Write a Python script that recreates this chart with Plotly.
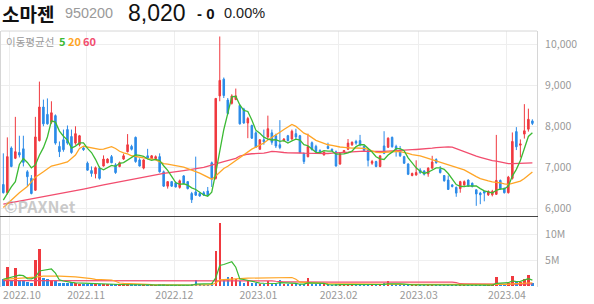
import plotly.graph_objects as go
import pandas as pd

# ---------------- data ----------------
opens = [6580, 6380, 7470, 7220, 7360, 7450, 6890, 6730, 6440, 7650,
         8470, 8290, 8100, 8260, 7510, 7670, 7920, 7750, 7590, 7550,
         7470, 7100, 6920, 6840, 6980, 7030, 7110, 7260, 7060, 7020,
         7200, 7380, 7510, 7730, 7180, 6980, 7280, 7210, 7210, 7260,
         6890, 6540, 6650, 6620, 6510, 6790, 6650, 6360, 6400, 6360,
         6380, 6420, 7110, 6730, 8740, 9150, 8640, 8560, 8650, 8510,
         8420, 8080, 8020, 7840, 7440, 7670, 7740, 7840, 7770, 7550,
         7650, 7770, 7690, 7820, 7770, 7340, 7260, 7600, 7510, 7410,
         7300, 7510, 7440, 7380, 7080, 7360, 7440, 7550, 7630, 7650,
         7510, 7410, 7100, 7140, 7020, 7520, 7490, 7730, 7510, 7410,
         7260, 7080, 6800, 6810, 6935, 6910, 6840, 6980, 7190, 6950,
         6800, 6690, 6570, 6510, 6480, 6570, 6690, 6610, 6450, 6370,
         6410, 6330, 6330, 6340, 6680, 6490, 6380, 6730, 7870, 7540,
         7810, 7930, 8130]
highs = [7340, 7730, 7510, 8230, 7770, 7770, 6930, 6810, 8230, 9090,
         8650, 8680, 8610, 8290, 7630, 7920, 8020, 7920, 8000, 7790,
         7490, 7140, 7020, 7020, 7020, 7290, 7220, 7300, 7100, 7140,
         7330, 7810, 7550, 7750, 7220, 7200, 7450, 7300, 7290, 7340,
         6920, 6660, 6660, 6650, 6700, 6810, 6660, 6400, 7260, 6400,
         6420, 6520, 7140, 8690, 10190, 9190, 8690, 8780, 8920, 8530,
         8450, 8230, 8040, 7880, 7690, 7920, 8260, 7920, 7820, 8150,
         7710, 7790, 7920, 7940, 7790, 7360, 7820, 7630, 7550, 7440,
         7380, 7600, 7460, 7410, 7360, 7420, 7690, 7630, 7670, 7790,
         7530, 7430, 7180, 7160, 7290, 7880, 7730, 7750, 7550, 7520,
         7280, 7100, 6870, 7170, 6980, 6930, 7000, 7280, 7220, 7030,
         6810, 6800, 6590, 6530, 6670, 6680, 6700, 6630, 6460, 6400,
         6420, 6440, 6450, 7790, 6700, 6500, 6790, 7850, 7980, 7680,
         8540, 8430, 8170]
lows = [6360, 6340, 7000, 7200, 7240, 7020, 6540, 6340, 6430, 7630,
        8000, 8040, 8060, 7550, 7250, 7380, 7550, 7330, 7550, 7510,
        7400, 6920, 6770, 6730, 6700, 7020, 7100, 7100, 6840, 7000,
        7180, 7360, 7410, 7110, 7020, 6950, 7200, 7200, 7180, 6870,
        6520, 6480, 6520, 6510, 6480, 6590, 6460, 6130, 6300, 6280,
        6300, 6300, 6520, 6700, 8610, 8690, 8290, 8530, 8640, 8040,
        8060, 7710, 7690, 7470, 7430, 7550, 7670, 7550, 7470, 7440,
        7630, 7630, 7670, 7670, 7340, 7080, 7240, 7410, 7360, 7330,
        7290, 7440, 7400, 7020, 7060, 7340, 7420, 7520, 7550, 7510,
        7390, 7020, 7060, 7000, 7000, 7320, 7470, 7480, 7260, 7250,
        7080, 6810, 6780, 6800, 6840, 6800, 6770, 6960, 7090, 6850,
        6650, 6450, 6510, 6280, 6380, 6550, 6520, 6510, 6060, 6100,
        6170, 6300, 6290, 6330, 6450, 6360, 6360, 6700, 7420, 7240,
        7700, 7870, 8030]
closes = [6380, 7260, 7020, 7380, 7300, 7120, 6770, 6360, 7740, 8470,
          8060, 8060, 8330, 7590, 7380, 7430, 7590, 7360, 7820, 7770,
          7430, 6930, 6850, 6990, 6730, 7200, 7200, 7110, 6870, 7110,
          7280, 7550, 7440, 7140, 7030, 7180, 7220, 7280, 7260, 6890,
          6540, 6650, 6540, 6520, 6670, 6610, 6480, 6210, 6320, 6300,
          6320, 6320, 6710, 8680, 9120, 8750, 8310, 8740, 8740, 8060,
          8080, 8190, 7710, 7490, 7670, 7620, 7940, 7610, 7520, 7480,
          7690, 7650, 7880, 7740, 7360, 7140, 7510, 7430, 7380, 7340,
          7370, 7460, 7410, 7030, 7330, 7410, 7590, 7610, 7590, 7550,
          7410, 7170, 7140, 7020, 7280, 7340, 7710, 7500, 7440, 7280,
          7100, 6830, 6850, 6870, 6870, 6830, 6980, 7130, 7110, 6870,
          6670, 6460, 6530, 6370, 6650, 6650, 6540, 6530, 6350, 6330,
          6370, 6410, 6410, 6680, 6480, 6380, 6760, 7630, 7500, 7570,
          7890, 8170, 8070]
volumes_m = [1.38, 3.6, 0.95, 3.4, 1.1, 0.95, 0.8, 0.6, 5.0, 7.2,
             1.6, 1.45, 1.25, 0.95, 0.6, 0.6, 0.55, 0.75, 0.6, 0.45,
             0.3, 0.35, 0.3, 0.25, 0.3, 0.35, 0.2, 0.2, 0.25, 0.2,
             0.2, 0.35, 0.2, 0.3, 0.2, 0.2, 0.15, 0.12, 0.12, 0.2,
             0.25, 0.15, 0.12, 0.1, 0.12, 0.12, 0.15, 0.25, 1.2, 0.25,
             0.15, 0.15, 0.6, 6.7, 12.3, 1.1, 1.7, 1.7, 1.4, 0.9,
             0.6, 0.9, 0.5, 0.5, 0.35, 0.4, 0.9, 0.4, 0.35, 1.2,
             0.3, 0.3, 0.35, 0.3, 0.45, 0.4, 1.5, 0.4, 0.3, 0.2,
             0.2, 0.25, 0.15, 0.35, 0.4, 0.2, 0.35, 0.2, 0.15, 0.2,
             0.25, 0.4, 0.15, 0.2, 0.3, 0.5, 0.9, 0.3, 0.2, 0.2,
             0.2, 0.3, 0.15, 0.25, 0.15, 0.15, 0.2, 0.3, 0.2, 0.2,
             0.2, 0.3, 0.15, 0.2, 0.2, 0.15, 0.2, 0.15, 0.25, 0.15,
             0.15, 0.15, 0.2, 1.8, 0.4, 0.3, 0.5, 1.95, 1.0, 0.8,
             1.3, 2.1, 0.5]

# moving-average values before each window is complete
ma5_head_idx = [0, 1, 2, 3]
ma5_head = [6200, 6370, 6520, 6650]
ma20_head_idx = [0, 2, 4, 6, 8, 10, 12, 14, 16, 18]
ma20_head = [6020, 6200, 6380, 6530, 6760, 6890, 7030, 7080, 7130, 7300]
ma60_head_idx = [0, 5, 10, 15, 20, 25, 30, 35, 40, 45, 50, 55, 58]
ma60_head = [6100, 6190, 6290, 6380, 6470, 6570, 6660, 6750, 6850, 6920, 7000, 7140, 7220]
vma5_head_idx = [0, 1, 2, 3]
vma5_head_m = [1.3, 1.5, 1.8, 2.0]
vma20_head_idx = [0, 4, 8, 10, 14, 18]
vma20_head_m = [1.3, 1.45, 1.7, 1.9, 1.9, 1.75]
vma60_head_idx = [0, 20, 40, 58]
vma60_head_m = [1.05, 1.05, 1.0, 1.05]

month_labels = ["2022.10", "2022.11", "2022.12", "2023.01", "2023.02", "2023.03", "2023.04"]
month_grid_pos = [1.65, 20.65, 42.65, 63.65, 83.65, 103.65, 125.65]
month_label_pos = [4.66, 20.65, 42.65, 63.65, 83.65, 103.65, 125.65]
price_ticks = [6000, 7000, 8000, 9000, 10000]
vol_ticks = [5e6, 10e6]
vol_tick_text = ["5M", "10M"]

# ---------------- styles ----------------
RED = "#f0393f"
BLUE = "#2b8be8"
C5 = "#3cba34"
C20 = "#ffa526"
C60 = "#f24d6e"
GRID = "#eeeeee"
FONT = "Noto Sans CJK KR"
NUMFONT = "Liberation Sans"

N = len(closes)
idx = list(range(N))
volumes = [v * 1e6 for v in volumes_m]


def ma_line(values, n, head_idx, head_vals):
    s = pd.Series(values, dtype=float).rolling(n).mean()
    xs = list(head_idx) + list(range(n - 1, len(values)))
    ys = list(head_vals) + list(s.iloc[n - 1:])
    return xs, ys


fig = go.Figure()
fig.add_trace(go.Candlestick(
    x=idx, open=opens, high=highs, low=lows, close=closes,
    increasing=dict(line=dict(color=RED, width=1), fillcolor=RED),
    decreasing=dict(line=dict(color=BLUE, width=1), fillcolor=BLUE),
    whiskerwidth=0, xaxis="x", yaxis="y", hoverinfo="skip"))

for n, col, hi, hv in [(60, C60, ma60_head_idx, ma60_head),
                       (20, C20, ma20_head_idx, ma20_head),
                       (5, C5, ma5_head_idx, ma5_head)]:
    xs, ys = ma_line(closes, n, hi, hv)
    fig.add_trace(go.Scatter(x=xs, y=ys, mode="lines", line=dict(color=col, width=1.3),
                             xaxis="x", yaxis="y", hoverinfo="skip"))

bar_colors = [RED if c >= o else BLUE for o, c in zip(opens, closes)]
fig.add_trace(go.Bar(x=idx, y=volumes, marker=dict(color=bar_colors, line=dict(width=0)),
                     width=0.6, xaxis="x2", yaxis="y2", hoverinfo="skip"))
for n, col, hi, hv in [(60, C60, vma60_head_idx, vma60_head_m),
                       (20, C20, vma20_head_idx, vma20_head_m),
                       (5, C5, vma5_head_idx, vma5_head_m)]:
    xs, ys = ma_line(volumes, n, hi, [v * 1e6 for v in hv])
    fig.add_trace(go.Scatter(x=xs, y=ys, mode="lines", line=dict(color=col, width=1.2),
                             xaxis="x2", yaxis="y2", hoverinfo="skip"))

W, H = 594, 304
L, R, T, B = 1, 57, 31, 17
PW, PH = W - L - R, H - T - B


def px(x):
    return (x - L) / PW


def py(y):
    return (H - B - y) / PH


xr = [-0.58, 133.15]
tickfont = dict(family=FONT, size=10.5, color="#999999")
fig.update_layout(
    width=W, height=H, margin=dict(l=L, r=R, t=T, b=B),
    paper_bgcolor="white", plot_bgcolor="white", showlegend=False,
    boxgap=0.45, bargap=0,
    font=dict(family=FONT, color="#999999", size=11),
    xaxis=dict(domain=[0, 1], anchor="y", range=xr, tickmode="array", tickvals=month_grid_pos,
               showticklabels=False, ticks="", showgrid=True, gridcolor=GRID, zeroline=False,
               showline=True, linecolor="#444444", linewidth=1, rangeslider=dict(visible=False)),
    xaxis2=dict(domain=[0, 1], anchor="y2", range=xr, matches="x", tickmode="array",
                tickvals=month_label_pos, ticktext=month_labels, ticks="", showgrid=False,
                zeroline=False, showline=False, tickfont=tickfont,
                minor=dict(tickmode="array", tickvals=month_grid_pos, showgrid=True,
                           gridcolor=GRID, ticks="")),
    yaxis=dict(domain=[py(216), 1], anchor="x", side="right", range=[5812, 10324],
               tickmode="array", tickvals=price_ticks, tickformat=",", ticks="",
               showgrid=True, gridcolor=GRID, zeroline=False, showline=True, mirror=True,
               linecolor="#d6d6d6", tickfont=tickfont, ticklabelstandoff=5),
    yaxis2=dict(domain=[0, py(217)], anchor="x2", side="right", range=[-0.2e6, 13.4e6],
                tickmode="array", tickvals=vol_ticks, ticktext=vol_tick_text, ticks="",
                showgrid=True, gridcolor=GRID, zeroline=False, showline=True, mirror=True,
                linecolor="#d6d6d6", tickfont=tickfont, ticklabelstandoff=5),
)

fig.add_shape(type="line", xref="paper", yref="paper", x0=0, x1=1, y0=1, y1=1,
              line=dict(color="#d6d6d6", width=1))


def ann(text, x, y, size, color, bold=False, family=FONT):
    fig.add_annotation(text=text, xref="paper", yref="paper", x=px(x), y=py(y),
                       xanchor="left", yanchor="middle", showarrow=False, borderpad=0,
                       font=dict(family=family, size=size, color=color,
                                 weight="bold" if bold else "normal"))


ann("소마젠", 0.5, 13.8, 19, "#111111", bold=True)
ann("950200", 64, 12.5, 14.4, "#9a9a9a", family=NUMFONT)
ann("8,020", 127, 13.4, 23, "#111111", family=NUMFONT)
ann("- 0", 196, 13, 15, "#111111", bold=True, family=NUMFONT)
ann("0.00%", 223, 13, 14.5, "#222222", family=NUMFONT)
ann("이동평균선", 5, 41, 10.5, "#9a9a9a")
ann("5", 57.5, 41, 11, C5, bold=True)
ann("20", 66.5, 41, 11, C20, bold=True)
ann("60", 81.5, 41, 11, C60, bold=True)
ann("©PAXNet", 3, 206, 16, "rgba(185,185,185,0.75)", bold=True)

fig.write_html("out.html")
